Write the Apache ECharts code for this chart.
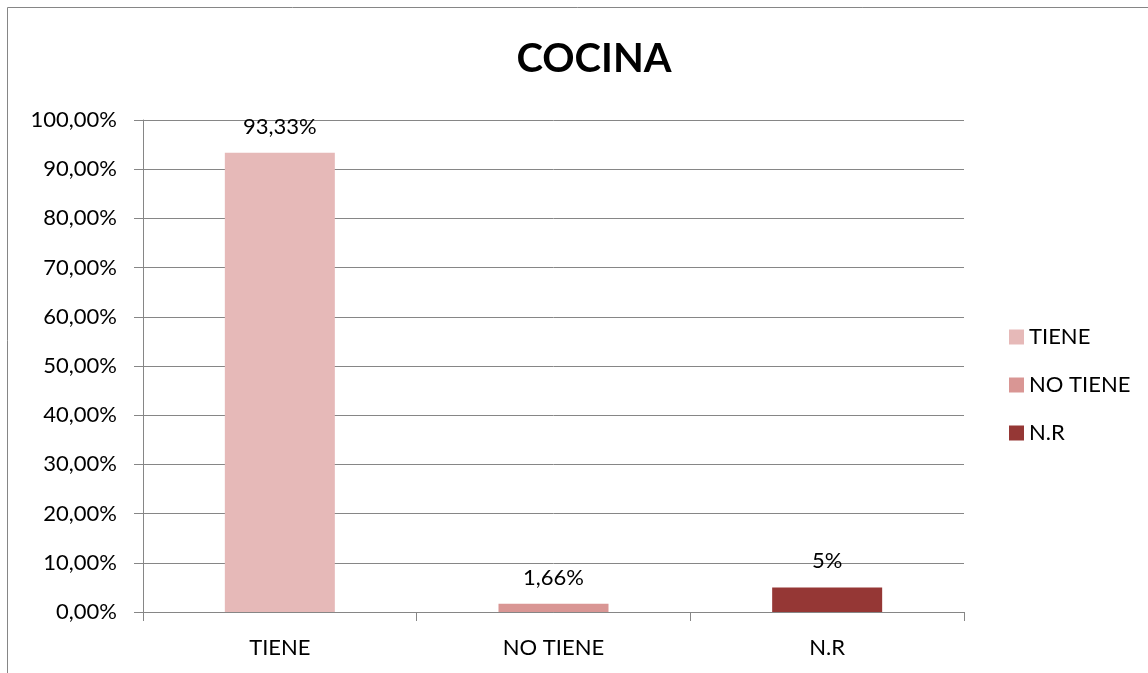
<!DOCTYPE html>
<html>
<head>
<meta charset="utf-8">
<script src="https://cdn.jsdelivr.net/npm/echarts@6/dist/echarts.min.js"></script>
<style>
  html, body { margin: 0; padding: 0; background: #fff; overflow: hidden; }
  #chartId { width: 1148px; height: 673px; }
</style>
</head>
<body>
<div id="chartId"></div>
<script>
var categories = ['TIENE', 'NO TIENE', 'N.R']
var values = [93.33, 1.66, 5]
var valueLabels = ['93,33%', '1,66%', '5%']
var colors = ['#E6B9B8', '#D99694', '#953735']
var yTicks = { min: 0, max: 100, interval: 10 }

var font = 'Lato, "Open Sans", sans-serif'
var gridColor = '#868686'

// una serie por categoría para que salga en la leyenda
var series = categories.map(function (name, i) {
    var data = categories.map(function (c, j) { return j === i ? values[i] : '-' })
    return {
        name: name,
        type: 'bar',
        stack: 'total',
        barWidth: 110,
        data: data,
        itemStyle: { color: colors[i] },
        label: {
            show: true,
            position: 'top',
            distance: 15,
            color: '#000',
            fontFamily: font,
            fontSize: 22,
            formatter: function () { return valueLabels[i] }
        }
    }
})

var myChart = echarts.init(document.getElementById('chartId'))
myChart.setOption({
    animation: false,
    title: {
        text: 'COCINA',
        left: 589,
        top: 34,
        textAlign: 'center',
        textStyle: { fontFamily: font, fontSize: 40, fontWeight: 'bold', color: '#000' }
    },
    // borde del área del gráfico (solo se ven izquierda y arriba)
    graphic: [{
        type: 'polyline',
        shape: { points: [[7.5, 673], [7.5, 7.5], [1148, 7.5]] },
        style: { fill: null, stroke: '#868686', lineWidth: 1 }
    }],
    legend: {
        orient: 'vertical',
        left: 1004,
        top: 321,
        itemWidth: 15,
        itemHeight: 15,
        itemGap: 26,
        icon: 'rect',
        data: categories,
        textStyle: { fontFamily: font, fontSize: 22, color: '#000' }
    },
    grid: { left: 143, right: 184, top: 120, bottom: 61 },
    xAxis: {
        type: 'category',
        data: categories,
        axisLine: { lineStyle: { color: gridColor } },
        axisTick: { show: true, length: 9, lineStyle: { color: gridColor } },
        axisLabel: { color: '#000', fontFamily: font, fontSize: 22, margin: 25 }
    },
    yAxis: {
        type: 'value',
        min: yTicks.min,
        max: yTicks.max,
        interval: yTicks.interval,
        axisLine: { show: true, lineStyle: { color: gridColor } },
        axisTick: { show: true, length: 9, lineStyle: { color: gridColor } },
        splitLine: { lineStyle: { color: gridColor } },
        axisLabel: {
            color: '#000', fontFamily: font, fontSize: 22, margin: 26,
            formatter: function (v) { return v.toFixed(2).replace('.', ',') + '%' }
        }
    },
    series: series
})
</script>
</body>
</html>
